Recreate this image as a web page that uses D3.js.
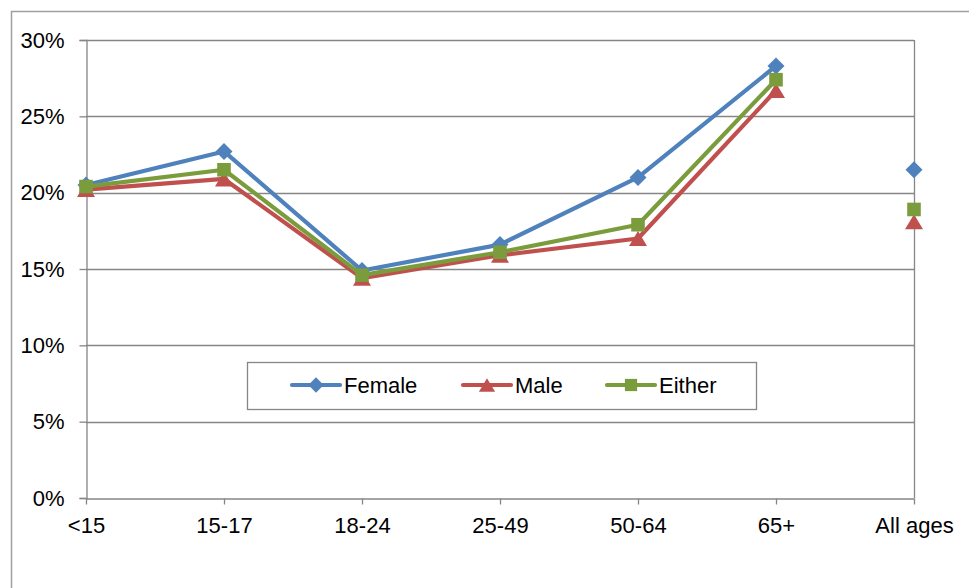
<!DOCTYPE html>
<html>
<head>
<meta charset="utf-8">
<script src="https://cdn.jsdelivr.net/npm/d3@7"></script>
<style>
  html, body { margin: 0; padding: 0; background: #fff; }
  svg { display: block; font-family: Arial, "Liberation Sans", sans-serif; }
</style>
</head>
<body>
<svg id="chart" width="969" height="588"></svg>
<script>
// Age groups along the x axis
const categories = ["<15", "15-17", "18-24", "25-49", "50-64", "65+", "All ages"];
// Share (%) for each group; the "All ages" point stands alone, not joined to the line
const female = [20.5, 22.7, 14.9, 16.6, 21.0, 28.3, 21.5];
const male   = [20.2, 20.9, 14.4, 15.9, 17.0, 26.7, 18.1];
const either = [20.4, 21.5, 14.6, 16.1, 17.9, 27.4, 18.9];
const yTicks = [0, 5, 10, 15, 20, 25, 30];
const seriesNames = ["Female", "Male", "Either"];

const series = [
  { name: seriesNames[0], values: female, color: "#4F81BD", shape: "diamond" },
  { name: seriesNames[1], values: male,   color: "#C0504D", shape: "triangle" },
  { name: seriesNames[2], values: either, color: "#7A9C3C", shape: "square" }
];

const svg = d3.select("#chart");
const plotLeft = 86, plotRight = 914, plotTop = 40, plotBottom = 498;
const axisColor = "#868686";

const x = d3.scalePoint().domain(categories).range([plotLeft, plotRight]);
const y = d3.scaleLinear().domain([0, 30]).range([plotBottom, plotTop]);

// Outer chart frame
svg.append("rect")
  .attr("x", 11.5).attr("y", 11.5)
  .attr("width", 980).attr("height", 600)
  .attr("fill", "none").attr("stroke", "#a0a0a0").attr("stroke-width", 1.5);

// Horizontal gridlines
svg.append("g").selectAll("line").data(yTicks.filter(d => d > 0)).join("line")
  .attr("x1", plotLeft).attr("x2", plotRight)
  .attr("y1", d => Math.round(y(d)) + 0.5).attr("y2", d => Math.round(y(d)) + 0.5)
  .attr("stroke", axisColor).attr("stroke-width", 1.3);

// Right edge of plot area
svg.append("line")
  .attr("x1", plotRight + 0.5).attr("x2", plotRight + 0.5)
  .attr("y1", plotTop).attr("y2", plotBottom)
  .attr("stroke", axisColor).attr("stroke-width", 1.3);

// Y axis
const yAxis = svg.append("g")
  .attr("transform", `translate(${plotLeft + 0.5},0)`)
  .call(d3.axisLeft(y).tickValues(yTicks).tickFormat(d => d + "%").tickSize(7).tickPadding(15));
yAxis.select(".domain").attr("stroke", axisColor).attr("stroke-width", 1.3);
yAxis.selectAll(".tick line").attr("stroke", axisColor).attr("stroke-width", 1.3);
yAxis.selectAll(".tick text")
  .attr("font-size", 22).attr("fill", "#000")
  .attr("font-family", "Arial, 'Liberation Sans', sans-serif");

// X axis
const xAxis = svg.append("g")
  .attr("transform", `translate(0,${plotBottom + 0.5})`)
  .call(d3.axisBottom(x).tickSize(6).tickPadding(13).tickSizeOuter(0));
xAxis.select(".domain").attr("stroke", axisColor).attr("stroke-width", 1.3);
xAxis.selectAll(".tick line").attr("stroke", axisColor).attr("stroke-width", 1.3);
xAxis.selectAll(".tick text")
  .attr("font-size", 22).attr("fill", "#000")
  .attr("font-family", "Arial, 'Liberation Sans', sans-serif");

// Marker shapes centred at (cx, cy)
function markerPath(shape, cx, cy, s) {
  const p = d3.path();
  if (shape === "diamond") {
    const r = 8.5 * s;
    p.moveTo(cx, cy - r); p.lineTo(cx + r, cy); p.lineTo(cx, cy + r); p.lineTo(cx - r, cy); p.closePath();
  } else if (shape === "triangle") {
    const w = 9 * s, h = 7.5 * s;
    p.moveTo(cx, cy - h); p.lineTo(cx + w, cy + h); p.lineTo(cx - w, cy + h); p.closePath();
  } else {
    const r = 6.8 * s;
    p.rect(cx - r, cy - r, 2 * r, 2 * r);
  }
  return p.toString();
}

// Lines (gap before "All ages") and markers
const line = d3.line()
  .defined((d, i) => i < categories.length - 1)
  .x((d, i) => x(categories[i]))
  .y(d => y(d));

const plot = svg.append("g");
series.forEach(s => {
  plot.append("path")
    .attr("d", line(s.values))
    .attr("fill", "none").attr("stroke", s.color)
    .attr("stroke-width", 4.2).attr("stroke-linejoin", "round").attr("stroke-linecap", "round");
  plot.append("g").selectAll("path").data(s.values).join("path")
    .attr("d", (d, i) => markerPath(s.shape, x(categories[i]), y(d), 1))
    .attr("fill", s.color);
});

// Legend
const legend = svg.append("g");
legend.append("rect")
  .attr("x", 247.5).attr("y", 362.5).attr("width", 509).attr("height", 47)
  .attr("fill", "#fff").attr("stroke", axisColor).attr("stroke-width", 1.3);
const legendX = [292, 463, 607];
const legendY = 385;
series.forEach((s, i) => {
  const lx = legendX[i];
  legend.append("line")
    .attr("x1", lx).attr("x2", lx + 48).attr("y1", legendY).attr("y2", legendY)
    .attr("stroke", s.color).attr("stroke-width", 4.2).attr("stroke-linecap", "round");
  legend.append("path")
    .attr("d", markerPath(s.shape, lx + 24, legendY, 0.9))
    .attr("fill", s.color);
  legend.append("text")
    .attr("x", lx + 52).attr("y", legendY + 8)
    .attr("font-size", 22).attr("fill", "#000")
    .text(s.name);
});
</script>
</body>
</html>
